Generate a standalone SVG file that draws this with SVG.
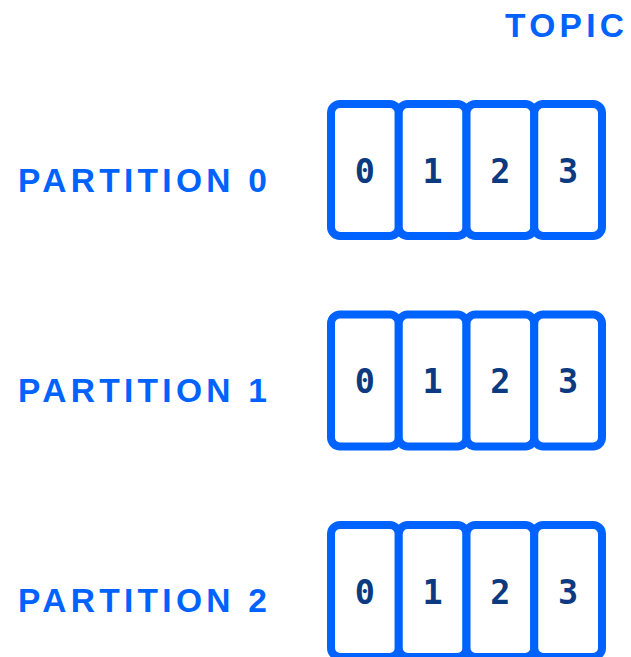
<svg xmlns="http://www.w3.org/2000/svg" width="631" height="657" viewBox="0 0 631 657">
  <style>
    .label { font-family: "Liberation Sans", Arial, sans-serif; font-weight: bold; font-size: 33.5px; letter-spacing: 4.3px; fill: #0062ff; }
    .cell { fill: #ffffff; stroke: #0062ff; stroke-width: 8; }
    .num { font-family: "DejaVu Sans Mono", "Liberation Mono", monospace; font-weight: bold; font-size: 33.5px; fill: #0b3a80; text-anchor: middle; }
  </style>
  <defs>
    <!-- one partition: four log segments, offsets 0..3 -->
    <g id="segments">
      <rect class="cell" x="331" y="0" width="67.75" height="132" rx="9"/>
      <rect class="cell" x="398.75" y="0" width="67.75" height="132" rx="9"/>
      <rect class="cell" x="466.5" y="0" width="67.75" height="132" rx="9"/>
      <rect class="cell" x="534.25" y="0" width="67.75" height="132" rx="9"/>
      <text class="num" x="364.9" y="78.7">0</text>
      <text class="num" x="432.6" y="78.7">1</text>
      <text class="num" x="500.4" y="78.7">2</text>
      <text class="num" x="568.1" y="78.7">3</text>
    </g>
  </defs>

  <g id="topic">
    <text class="label" x="505" y="37.3">TOPIC</text>
  </g>

  <g id="partition-0">
    <text class="label" x="18" y="191.7">PARTITION 0</text>
    <use href="#segments" transform="translate(0,104)"/>
  </g>

  <g id="partition-1">
    <text class="label" x="18" y="401.7">PARTITION 1</text>
    <use href="#segments" transform="translate(0,314.5)"/>
  </g>

  <g id="partition-2">
    <text class="label" x="18" y="611.7">PARTITION 2</text>
    <use href="#segments" transform="translate(0,525)"/>
  </g>

  <g id="connectors"/>
</svg>
